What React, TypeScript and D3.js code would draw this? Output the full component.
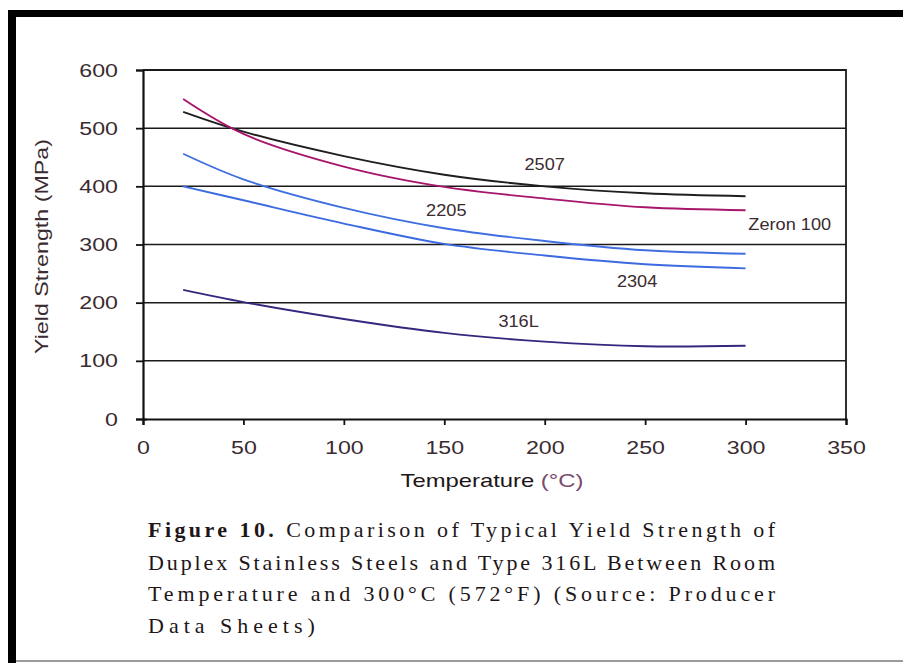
import React, { useEffect, useRef } from 'react';
import * as d3 from 'd3';

// temperature points (°C)
const temps = [20, 50, 100, 150, 200, 250, 300];

// yield strength (MPa) per grade
const s2507 = [528, 494, 452, 420, 400, 388, 383];
const zeron100 = [550, 490, 434, 399, 379, 364, 359];
const s2205 = [456, 412, 363, 328, 306, 290, 284];
const s2304 = [400, 376, 336, 301, 281, 266, 259];
const s316L = [222, 201, 172, 148, 133, 125, 126];

const seriesNames = ['2507', 'Zeron 100', '2205', '2304', '316L'];
const seriesColors = ['#1e1e1e', '#a8166c', '#3f6fe0', '#3c6ae0', '#36277e'];

// in-plot labels: [text, temperature, strength]
const labels: [string, number, number][] = [
  ['2507', 200, 436],
  ['2205', 151, 357],
  ['Zeron 100', 322, 333],
  ['2304', 246, 235],
  ['316L', 187, 165],
];

const xTicks = [0, 50, 100, 150, 200, 250, 300, 350];
const yTicks = [0, 100, 200, 300, 400, 500, 600];

const captionLines = [
  'Comparison of Typical Yield Strength of',
  'Duplex Stainless Steels and Type 316L Between Room',
  'Temperature and 300°C (572°F) (Source: Producer',
  'Data Sheets)',
];

const W = 903;
const H = 663;
const textColor = '#3a2b30';
const sans = '"Liberation Sans", Arial, sans-serif';

// the scan is a bit wider than the font, so stretch text sideways
function stretch(sel: any, k: number) {
  sel.each(function (this: SVGTextElement) {
    const w = this.getComputedTextLength();
    d3.select(this).attr('textLength', w * k).attr('lengthAdjust', 'spacingAndGlyphs');
  });
}

const App = () => {
  const ref = useRef<SVGSVGElement>(null);

  useEffect(() => {
    const svg = d3.select(ref.current);
    svg.selectAll('*').remove();

    const x = d3.scaleLinear().domain([0, 350]).range([143, 846]);
    const y = d3.scaleLinear().domain([0, 600]).range([419, 70]);

    svg.append('rect').attr('width', W).attr('height', H).attr('fill', '#fff');

    // outer frame of the scanned figure
    svg.append('rect').attr('x', 8).attr('y', 10).attr('width', W).attr('height', 7).attr('fill', '#000');
    svg.append('rect').attr('x', 8).attr('y', 10).attr('width', 8).attr('height', H).attr('fill', '#000');
    svg.append('line').attr('x1', 16).attr('x2', W).attr('y1', 661).attr('y2', 661)
      .attr('stroke', '#9a9a9a').attr('stroke-width', 2);

    // grid lines
    svg.append('g').selectAll('line')
      .data(yTicks.filter(d => d > 0 && d < 600))
      .enter().append('line')
      .attr('x1', x(0)).attr('x2', x(350))
      .attr('y1', d => y(d)).attr('y2', d => y(d))
      .attr('stroke', '#1a1a1a').attr('stroke-width', 1.5);

    // plot frame (top + right)
    svg.append('path')
      .attr('d', `M${x(0)},${y(600)}H${x(350)}V${y(0)}`)
      .attr('fill', 'none').attr('stroke', '#1a1a1a').attr('stroke-width', 1.8);

    // axes
    const yAxis = svg.append('g').attr('transform', `translate(${x(0)},0)`)
      .call(d3.axisLeft(y).tickValues(yTicks).tickSize(7).tickPadding(18));
    const xAxis = svg.append('g').attr('transform', `translate(0,${y(0)})`)
      .call(d3.axisBottom(x).tickValues(xTicks).tickSize(6).tickPadding(16));

    [yAxis, xAxis].forEach(g => {
      g.select('.domain').attr('stroke', '#111').attr('stroke-width', 2.2);
      g.selectAll('.tick line').attr('stroke', '#111').attr('stroke-width', 1.8);
      const t = g.selectAll('.tick text')
        .attr('fill', textColor)
        .style('font-family', sans)
        .style('font-size', '19px');
      stretch(t, 1.22);
    });
    yAxis.select('.tick line').attr('x1', 4);

    // curves
    const series = [s2507, zeron100, s2205, s2304, s316L];
    const line = d3.line<number>()
      .x((_, i) => x(temps[i]))
      .y(d => y(d))
      .curve(d3.curveCatmullRom.alpha(0.5));

    svg.append('g').selectAll('path')
      .data(series)
      .enter().append('path')
      .attr('d', d => line(d))
      .attr('fill', 'none')
      .attr('stroke', (_, i) => seriesColors[i])
      .attr('stroke-width', 1.9)
      .attr('data-name', (_, i) => seriesNames[i]);

    // curve labels
    const lt = svg.append('g').selectAll('text')
      .data(labels)
      .enter().append('text')
      .attr('x', d => x(d[1]))
      .attr('y', d => y(d[2]))
      .attr('text-anchor', 'middle')
      .attr('dominant-baseline', 'middle')
      .attr('fill', textColor)
      .style('font-family', sans)
      .style('font-size', '16.5px')
      .text(d => d[0]);
    stretch(lt, 1.1);

    // axis titles
    const yt = svg.append('text')
      .attr('transform', `translate(48,${(y(0) + y(600)) / 2 + 2}) rotate(-90)`)
      .attr('text-anchor', 'middle')
      .attr('fill', textColor)
      .style('font-family', sans)
      .style('font-size', '19px')
      .text('Yield Strength (MPa)');
    yt.attr('textLength', 215).attr('lengthAdjust', 'spacingAndGlyphs');

    const xt = svg.append('text')
      .attr('x', 492).attr('y', 487)
      .attr('text-anchor', 'middle')
      .attr('fill', '#1e1618')
      .style('font-family', sans)
      .style('font-size', '19px');
    xt.append('tspan').text('Temperature ');
    xt.append('tspan').attr('fill', '#7a4a6e').text('(°C)');
    xt.attr('textLength', 183).attr('lengthAdjust', 'spacingAndGlyphs');

    // caption
    const cap = svg.append('g')
      .style('font-family', '"Liberation Serif", "Times New Roman", serif')
      .style('font-size', '22px')
      .attr('fill', '#1e1618');
    const baselines = [537, 570, 601, 633];
    captionLines.forEach((t, i) => {
      const tx = cap.append('text').attr('x', 148).attr('y', baselines[i]);
      if (i < 3) tx.attr('textLength', 627).attr('lengthAdjust', 'spacing');
      else tx.style('letter-spacing', '5px');
      if (i === 0) {
        tx.append('tspan').attr('font-weight', 'bold').text('Figure 10. ');
      }
      tx.append('tspan').text(t);
    });
  }, []);

  return (
    <svg
      ref={ref}
      width={W}
      height={H}
      style={{ position: 'absolute', left: 0, top: 0 }}
    />
  );
};

export default App;
